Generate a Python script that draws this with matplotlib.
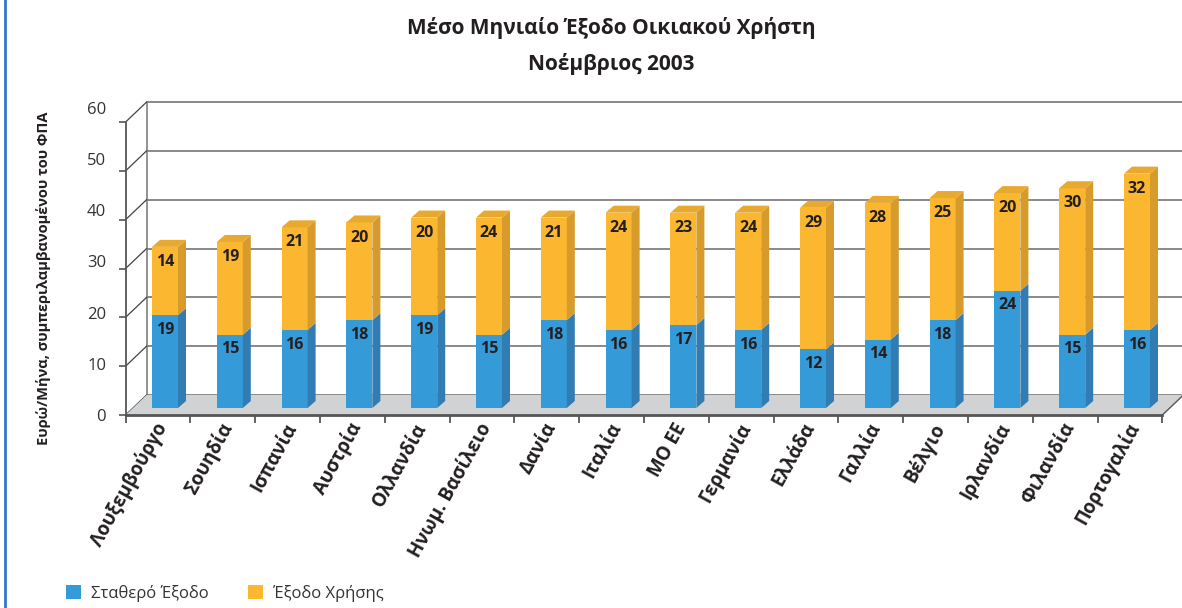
import matplotlib
matplotlib.use("Agg")
import matplotlib.pyplot as plt
from matplotlib.patches import Polygon, Patch
from matplotlib.lines import Line2D
from matplotlib.transforms import ScaledTranslation

plt.rcParams['font.family'] = ['Open Sans', 'DejaVu Sans']

countries = ["Λουξεμβούργο", "Σουηδία", "Ισπανία", "Αυστρία", "Ολλανδία",
             "Ηνωμ. Βασίλειο", "Δανία", "Ιταλία", "ΜΟ ΕΕ", "Γερμανία",
             "Ελλάδα", "Γαλλία", "Βέλγιο", "Ιρλανδία", "Φιλανδία", "Πορτογαλία"]
fixed = [19, 15, 16, 18, 19, 15, 18, 16, 17, 16, 12, 14, 18, 24, 15, 16]
usage = [14, 19, 21, 20, 20, 24, 21, 24, 23, 24, 29, 28, 25, 20, 30, 32]
yticks = [0, 10, 20, 30, 40, 50, 60]
series_names = ["Σταθερό Έξοδο", "Έξοδο Χρήσης"]
title1 = "Μέσο Μηνιαίο Έξοδο Οικιακού Χρήστη"
title2 = "Νοέμβριος 2003"
ylabel = "Ευρώ/Μήνα, συμπεριλαμβανομένου του ΦΠΑ"

BLUE, BLUE_SIDE = "#359ad8", "#317cb3"
ORANGE, ORANGE_SIDE, ORANGE_TOP = "#fcb731", "#d69b2b", "#e8a930"

W, H = 1182, 608
fig = plt.figure(figsize=(W / 100, H / 100), dpi=100)

# pixel geometry
x0_px, cat_px = 158.0, 64.8
y0_px, unit_px = 415.0, 4.883
left_px = x0_px - 0.5 * cat_px
ytop = 64.51
ax = fig.add_axes([left_px / W, (H - y0_px) / H, (W - left_px) / W, ytop * unit_px / H])
xmax = (W - x0_px) / cat_px
ax.set_xlim(-0.5, xmax)
ax.set_ylim(0, ytop)

# depth of the 3D box (in data units)
DX, DY = 21 / cat_px, 20 / unit_px
# bar placement in depth
bfx, bfy = 7 / cat_px, 7 / unit_px      # front face offset
bdx, bdy = 8 / cat_px, 7 / unit_px      # bar depth
bw = 26 / cat_px

n = len(countries)
xl, xr = -0.5, n - 0.5

# back wall grid
ax.plot([xl + DX, xl + DX], [DY, 60 + DY], color="#808080", lw=1.2, zorder=1)
for v in yticks:
    ax.plot([xl + DX, xmax + 1], [v + DY, v + DY], color="#808080", lw=1.3, zorder=1,
            solid_capstyle="butt")
    ax.plot([xl, xl + DX], [v, v + DY], color="#444444", lw=0.9, zorder=1)

# floor
ax.add_patch(Polygon([(xl, 0), (xr, 0), (xr + DX, DY), (xl + DX, DY)],
                     closed=True, facecolor="#d1d2d4", edgecolor="none", zorder=1.5))
ax.plot([xr, xr + DX], [0, DY], color="#555555", lw=1.0, zorder=1.6)

# bars
for i, (f, u) in enumerate(zip(fixed, usage)):
    cx = i + bfx
    L, R = cx - bw / 2, cx + bw / 2
    b0 = bfy
    segs = [(b0, b0 + f, BLUE, BLUE_SIDE), (b0 + f, b0 + f + u, ORANGE, ORANGE_SIDE)]
    for (ya, yb, fc, sc) in segs:
        ax.add_patch(Polygon([(L, ya), (R, ya), (R, yb), (L, yb)], closed=True,
                             facecolor=fc, edgecolor="none", zorder=3))
        ax.add_patch(Polygon([(R, ya), (R + bdx, ya + bdy), (R + bdx, yb + bdy), (R, yb)],
                             closed=True, facecolor=sc, edgecolor="none", zorder=3))
    top = b0 + f + u
    ax.add_patch(Polygon([(L, top), (R, top), (R + bdx, top + bdy), (L + bdx, top + bdy)],
                         closed=True, facecolor=ORANGE_TOP, edgecolor="none", zorder=3))
    lab_font = dict(ha="center", va="center", fontsize=11.5, fontweight="bold",
                    color="#231f20", zorder=4,
                    family=["Liberation Sans Narrow", "Open Sans", "DejaVu Sans"])
    ax.text(cx, b0 + f - 3.0, str(f), **lab_font)
    ax.text(cx, top - 3.1, str(u), **lab_font)

# spines and ticks
for s in ["top", "right"]:
    ax.spines[s].set_visible(False)
ax.spines["left"].set_bounds(0, 60)
ax.spines["left"].set_color("#555555")
ax.spines["left"].set_linewidth(1.3)
ax.spines["bottom"].set_bounds(xl, xr)
ax.spines["bottom"].set_color("#555555")
ax.spines["bottom"].set_linewidth(2.0)
ax.set_yticks(yticks)
ax.set_yticklabels([])
ax.tick_params(axis="y", length=5, width=1.2, color="#555555")
ax.set_xticks([k - 0.5 for k in range(n + 1)])
ax.set_xticklabels([])
ax.tick_params(axis="x", which="major", length=6, width=1.3, color="#555555")
ax.set_xticks(list(range(n)), minor=True)
ax.set_xticklabels(countries, minor=True, fontsize=13.5, fontweight="bold", color="#231f20")
ax.tick_params(axis="x", which="minor", length=0, pad=6)
shift = ScaledTranslation(5 / 100, -1 / 100, fig.dpi_scale_trans)
for t in ax.get_xticklabels(minor=True):
    t.set_rotation(61)
    t.set_ha("right")
    t.set_va("center")
    t.set_rotation_mode("anchor")
    t.set_transform(t.get_transform() + shift)

# y tick labels (spaced as in the original)
ax2 = fig.add_axes(ax.get_position(), frameon=False)
ax2.set_ylim(1 / 5.133, 1 / 5.133 + ytop * unit_px / 5.133)
ax2.set_xticks([])
ax2.set_yticks(yticks)
ax2.set_yticklabels([str(v) for v in yticks], fontsize=12, color="#333333")
ax2.tick_params(axis="y", length=0, pad=14)
ax2.patch.set_visible(False)

# titles
fig.text(611 / W, 1 - 28 / H, title1, ha="center", va="center",
         fontsize=15, fontweight="bold", color="#231f20")
fig.text(611 / W, 1 - 64 / H, title2, ha="center", va="center",
         fontsize=15, fontweight="bold", color="#231f20")
fig.text(44 / W, 1 - 278 / H, ylabel, rotation=90, ha="center", va="center",
         fontsize=10.5, fontweight="bold", color="#231f20")

# legend
handles = [Patch(facecolor=BLUE, edgecolor="none"), Patch(facecolor=ORANGE, edgecolor="none")]
fig.legend(handles, series_names, loc="lower left", bbox_to_anchor=(66 / W, 6 / H),
           ncol=2, frameon=False, fontsize=12, handlelength=0.9, handleheight=0.9,
           handletextpad=0.6, columnspacing=2.35, borderpad=0, borderaxespad=0,
           labelcolor="#333333")

# left border
fig.add_artist(Line2D([4.5 / W, 4.5 / W], [0, 1], transform=fig.transFigure,
                      color="#3575c6", lw=2))

fig.savefig("out.png", dpi=100, facecolor="white")
